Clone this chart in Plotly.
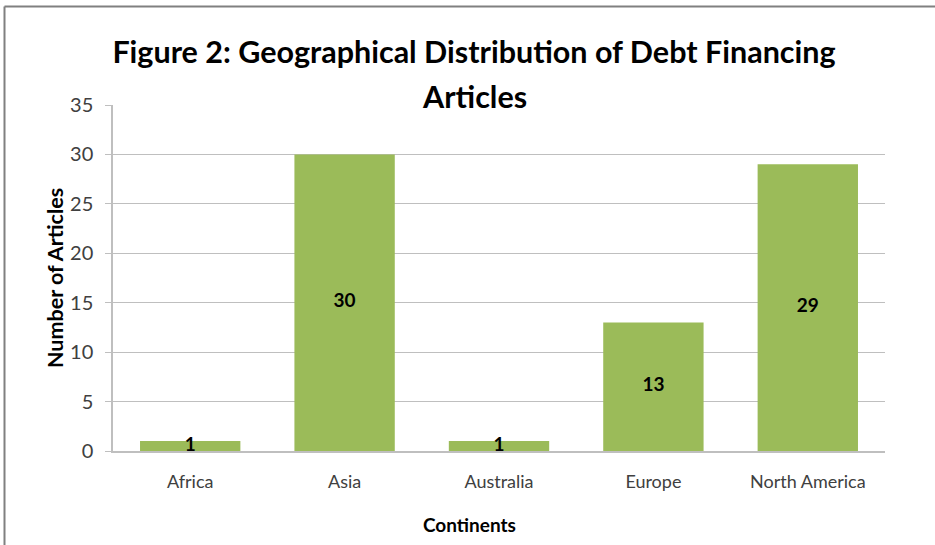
import plotly.graph_objects as go

categories = ["Africa", "Asia", "Australia", "Europe", "North America"]
articles = [1, 30, 1, 13, 29]
y_ticks = [0, 5, 10, 15, 20, 25, 30, 35]
title_line1 = "Figure 2: Geographical Distribution of Debt Financing"
title_line2 = "Articles"
x_title = "Continents"
y_title = "Number of Articles"

FONT = "Lato"
BAR = "#9BBB59"

fig = go.Figure()
fig.add_trace(go.Bar(
    x=categories, y=articles, marker=dict(color=BAR, line=dict(width=0)),
    width=0.65, hoverinfo="skip", showlegend=False,
))
fig.add_trace(go.Scatter(
    x=categories, y=[v / 2 for v in articles], mode="text",
    text=[str(v) for v in articles],
    textfont=dict(family=FONT, size=19, color="#000000", weight="bold"),
    textposition="middle center", showlegend=False, hoverinfo="skip",
))

W, H = 935, 545
L, R, T, B = 113, 50, 105, 94
pw, ph = W - L - R, H - T - B

def px2x(px):
    return (px - L) / pw

def py2y(py):
    return (H - B - py) / ph

title_font = dict(family=FONT, size=30.5, color="#000000", weight="bold")

fig.update_layout(
    width=W, height=H,
    margin=dict(l=L, r=R, t=T, b=B),
    paper_bgcolor="white", plot_bgcolor="white",
    title=dict(
        text=title_line1, font=title_font,
        x=474 / W, xanchor="center", y=1 - 52 / H, yanchor="middle",
    ),
    annotations=[
        dict(text=title_line2, font=title_font, xref="paper", yref="paper",
             x=px2x(474), y=py2y(96), xanchor="center", yanchor="middle", showarrow=False),
        dict(text=x_title, font=dict(family=FONT, size=19, color="#000000", weight="bold"),
             xref="paper", yref="paper", x=px2x(469), y=py2y(524),
             xanchor="center", yanchor="middle", showarrow=False),
        dict(text=y_title, font=dict(family=FONT, size=21.5, color="#000000", weight="bold"),
             xref="paper", yref="paper", x=px2x(55), y=py2y(278), textangle=-90,
             xanchor="center", yanchor="middle", showarrow=False),
    ],
    xaxis=dict(
        showgrid=False, showline=True, linecolor="#BFBFBF", linewidth=2,
        tickfont=dict(family=FONT, size=18, color="#404040"),
        ticks="", ticklabelstandoff=13,
    ),
    yaxis=dict(
        range=[0, 35], tickvals=y_ticks, showgrid=True, gridcolor="#BFBFBF", gridwidth=1,
        showline=True, linecolor="#BFBFBF", linewidth=1.5, ticks="outside", ticklen=6,
        tickcolor="#BFBFBF", ticklabelstandoff=8,
        tickfont=dict(family=FONT, size=20, color="#404040"),
        zeroline=False,
    ),
    shapes=[
        dict(type="line", xref="paper", yref="paper", x0=px2x(4.5), x1=px2x(W), y0=py2y(6.5), y1=py2y(6.5),
             line=dict(color="#808080", width=2)),
        dict(type="line", xref="paper", yref="paper", x0=px2x(4.5), x1=px2x(4.5), y0=py2y(6.5), y1=py2y(H),
             line=dict(color="#808080", width=2)),
    ],
)

fig.write_html("out.html")
